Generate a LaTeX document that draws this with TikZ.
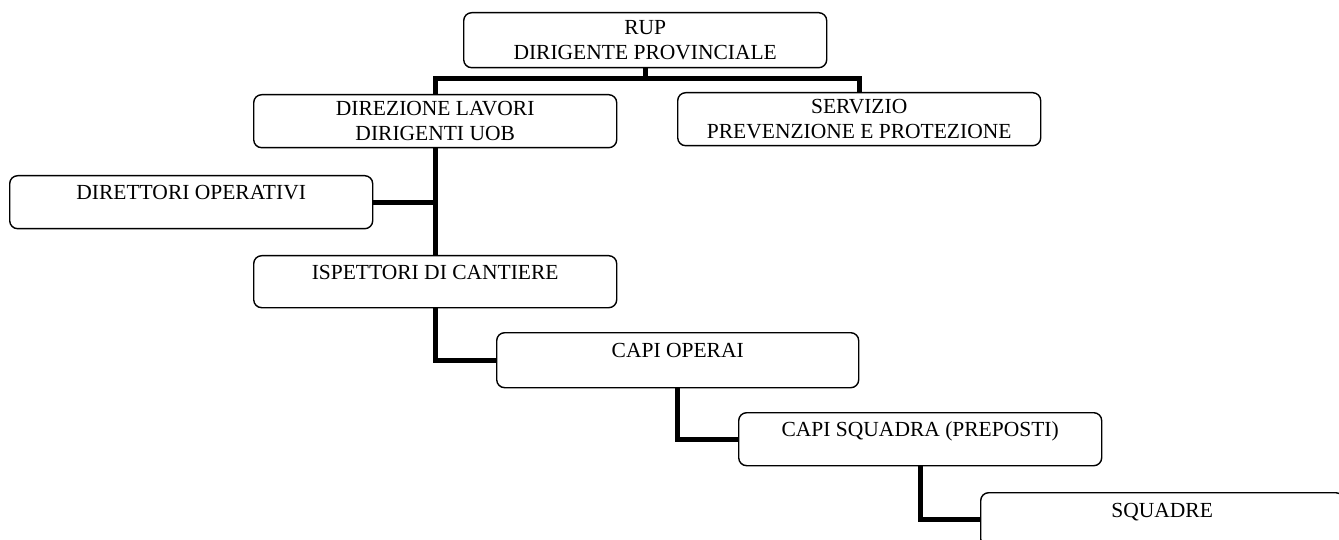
\documentclass[tikz,border=0pt]{standalone}
\usepackage{fontspec}
\setmainfont{Liberation Serif}
\begin{document}
\begin{tikzpicture}[x=1pt,y=-1pt,
  box/.style={draw, line width=1.4pt, rounded corners=8pt, minimum width=363pt,
    inner sep=0pt, anchor=north west, font=\fontsize{21.5}{25}\selectfont, align=center},
  oneline/.style={text height=15pt, text depth=19.8pt},
  link/.style={line width=5pt}
]
\useasboundingbox (0,0) rectangle (1339,540);
\clip (0,0) rectangle (1339,540);
\node[box, minimum height=55pt] (rup) at (463,12) {RUP\\DIRIGENTE PROVINCIALE};
\node[box, minimum height=53pt] (dl) at (253,94) {DIREZIONE LAVORI\\DIRIGENTI UOB};
\node[box, minimum height=53pt] (sv) at (677,92) {SERVIZIO\\PREVENZIONE E PROTEZIONE};
\node[box, oneline, minimum height=53pt] (dir) at (9,175) {DIRETTORI OPERATIVI};
\node[box, oneline, minimum height=52pt] (isp) at (253,255) {ISPETTORI DI CANTIERE};
\node[box, oneline, minimum height=55pt, minimum width=362pt] (co) at (496,332) {CAPI OPERAI};
\node[box, oneline, minimum height=53pt] (cs) at (738,412) {CAPI SQUADRA (PREPOSTI)};
\node[box, oneline, minimum height=54pt] (sq) at (980,492) {SQUADRE};
\coordinate (bus) at (0,78.5);
\draw[link] (rup.south) -- (rup.south |- bus);
\draw[link] (dl.north) -- (dl.north |- bus) -- (sv.north |- bus) -- (sv.north);
\draw[link] (dl.south) -- (isp.north);
\draw[link] (dir.east) -- (dir.east -| dl.south);
\draw[link] (isp.south) |- (co.west);
\draw[link] (co.south) |- (cs.west);
\draw[link] (cs.south) |- (sq.west);
\end{tikzpicture}
\end{document}
